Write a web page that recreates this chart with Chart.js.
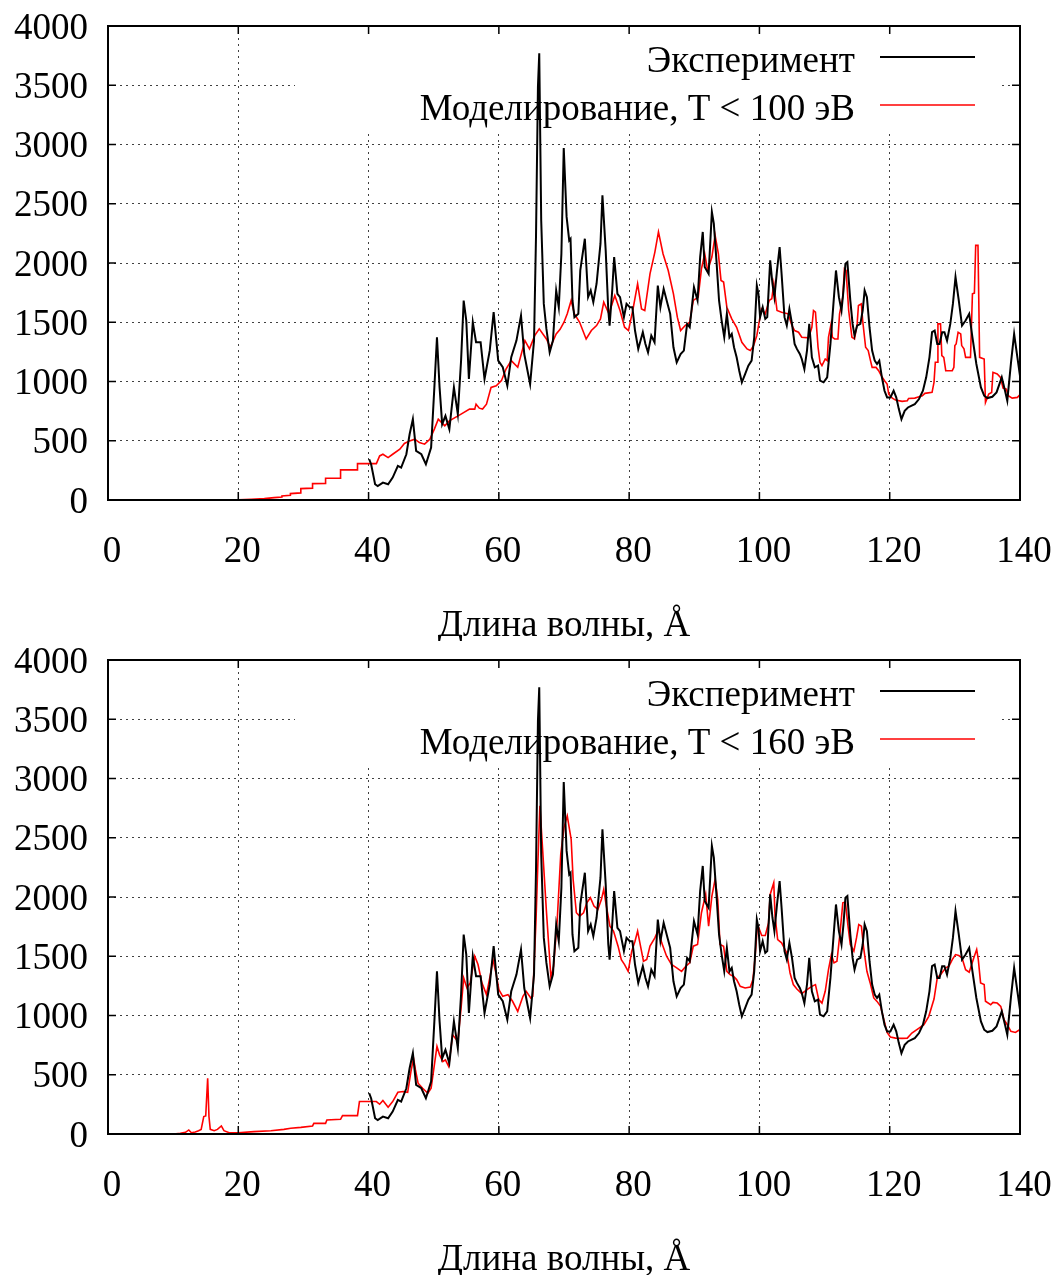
<!DOCTYPE html>
<html lang="ru">
<head>
<meta charset="utf-8">
<title>Эксперимент и моделирование</title>
<script src="https://cdn.jsdelivr.net/npm/chart.js@4.4.1/dist/chart.umd.min.js"></script>
<style>
  html, body { margin: 0; padding: 0; background: #fff; }
  body { width: 1056px; height: 1275px; position: relative; overflow: hidden; }
  canvas { position: absolute; left: 0; }
  #panelTop { top: 0; }
  #panelBottom { top: 634px; }
</style>
</head>
<body>
<canvas id="panelTop" width="1056" height="641"></canvas>
<canvas id="panelBottom" width="1056" height="641"></canvas>
<script>
// ---- data (wavelength, Å / intensity) ----
const expX = [40.1, 40.4, 41, 41.4, 42.2, 43, 43.7, 44.5, 45, 45.8, 46.3, 46.8, 47.3, 48.1, 48.8, 49.6, 50.1, 50.5, 50.9, 51.3,
  51.8, 52.4, 53.1, 53.7, 54.2, 54.6, 55, 55.4, 56, 56.5, 57.2, 57.8, 58.6, 59.2, 59.9, 60.6, 61.3, 61.9, 62.7, 63.4,
  63.9, 64.8, 65.4, 65.7, 66, 66.2, 66.5, 66.9, 67.3, 67.8, 68.3, 68.8, 69.2, 69.6, 69.96, 70.4, 70.8, 71, 71.3, 71.6,
  72.2, 72.5, 73.2, 73.7, 74.1, 74.5, 75, 75.6, 75.9, 76.4, 76.8, 77, 77.4, 77.7, 78.2, 78.6, 79.2, 79.6, 80.1, 80.5,
  80.9, 81.4, 82.1, 82.5, 82.9, 83.4, 83.9, 84.4, 84.8, 85.3, 85.9, 86.3, 86.8, 87.3, 87.9, 88.4, 88.9, 89.3, 89.95, 90.5,
  90.9, 91.3, 91.6, 92.2, 92.7, 93, 93.4, 93.8, 94.2, 94.6, 95, 95.4, 95.75, 96.1, 96.5, 96.9, 97.3, 97.8, 98.3, 98.8,
  99.2, 99.6, 99.85, 100.1, 100.5, 100.9, 101.2, 101.65, 102, 102.3, 102.7, 103.1, 103.4, 103.85, 104.2, 104.6, 105, 105.4, 105.75, 106.2,
  106.5, 106.9, 107.3, 107.65, 108.05, 108.5, 109, 109.3, 109.85, 110.4, 110.9, 111.4, 111.75, 112.2, 112.6, 112.9, 113.2, 113.5, 113.95, 114.3,
  114.6, 115, 115.5, 115.85, 116.15, 116.5, 116.9, 117.3, 117.7, 118.05, 118.4, 118.8, 119.2, 119.6, 120.1, 120.6, 121, 121.4, 121.8, 122.3,
  122.8, 123.3, 123.85, 124.5, 125.1, 125.6, 126.1, 126.5, 126.9, 127.3, 127.65, 128.05, 128.4, 128.8, 129.3, 129.7, 130.1, 130.6, 131.1, 131.65,
  132.2, 132.7, 133.3, 134, 134.5, 135, 135.75, 136.4, 137.2, 137.7, 138.05, 138.6, 139.1, 139.6, 140.1];
const expY = [344, 300, 133, 118, 147, 133, 189, 288, 274, 386, 555, 682, 414, 386, 302, 443, 950, 1373, 950, 640,
  710, 598, 950, 725, 1176, 1683, 1514, 1021, 1500, 1331, 1331, 1021, 1260, 1585, 1176, 1120, 964, 1204, 1345, 1557,
  1232, 978, 1345, 2219, 3488, 3770, 2360, 1655, 1444, 1246, 1345, 1768, 1627, 2078, 2970, 2389, 2191, 2205, 1684, 1543,
  1571, 1937, 2205, 1712, 1768, 1669, 1825, 2163, 2572, 2107, 1599, 1472, 1768, 2050, 1740, 1712, 1543, 1655, 1627, 1627,
  1430, 1275, 1416, 1317, 1246, 1387, 1331, 1810, 1627, 1782, 1655, 1571, 1289, 1162, 1232, 1261, 1486, 1458, 1796, 1684,
  2050, 2262, 1966, 1909, 2431, 2332, 2022, 1684, 1514, 1373, 1571, 1373, 1402, 1289, 1204, 1091, 993, 1063, 1134, 1176,
  1373, 1810, 1740, 1543, 1627, 1528, 1543, 2022, 1825, 1712, 1937, 2135, 1909, 1543, 1472, 1613, 1486, 1317, 1275, 1232,
  1190, 1105, 1261, 1486, 1204, 1119, 1134, 1007, 993, 1035, 1317, 1684, 1937, 1712, 1599, 1768, 1994, 2008, 1684, 1486,
  1387, 1472, 1486, 1599, 1768, 1712, 1458, 1261, 1176, 1148, 1176, 1035, 922, 866, 866, 922, 866, 767, 682, 753,
  781, 795, 809, 852, 922, 1035, 1204, 1416, 1430, 1317, 1317, 1416, 1416, 1345, 1486, 1655, 1881, 1684, 1472, 1514,
  1571, 1373, 1148, 950, 880, 860, 871, 908, 1035, 922, 838, 1148, 1402, 1204, 1007];

const sim100X = [10.4, 20, 22, 24, 25.5, 26.7, 26.7, 28, 28, 29.6, 29.6, 31.4, 31.4, 33.4, 33.4, 35.7, 35.7, 38.3, 38.3, 41.2,
  41.7, 42.2, 43, 43.7, 44.8, 45.5, 46.3, 47.1, 47.8, 48.6, 49.4, 50.1, 50.7, 51.7, 52.4, 54.2, 55.5, 56.3, 56.5, 57,
  57.5, 58.1, 58.8, 59.6, 60.4, 61.1, 61.9, 62.9, 64, 64.7, 65.5, 66.2, 67.3, 67.9, 68.8, 69.4, 70, 70.5, 71.1, 71.6,
  72.4, 73.4, 74.2, 75, 75.6, 76.1, 76.9, 77.8, 78.6, 79.3, 79.9, 80.6, 81.3, 81.9, 82.4, 83.2, 83.95, 84.5, 85.2, 86,
  86.8, 87.4, 87.9, 88.6, 89.3, 89.85, 90.6, 91.1, 91.6, 92.05, 92.7, 93.2, 93.7, 94.1, 94.5, 95, 95.75, 96.5, 97.3, 98.1,
  98.6, 99.1, 99.6, 100.3, 100.9, 101.5, 101.9, 102.2, 102.7, 103.4, 104.4, 105, 105.4, 106, 106.5, 107.55, 108.05, 108.3, 108.6, 109,
  109.3, 109.6, 110.1, 110.4, 110.6, 111, 111.2, 111.55, 112.05, 112.3, 112.8, 113.05, 113.3, 113.7, 114.2, 114.6, 115, 115.2, 115.65, 115.85,
  116.3, 116.7, 117.05, 117.3, 117.9, 118.3, 118.7, 119.2, 119.6, 119.85, 120.4, 120.9, 121.9, 122.7, 122.9, 123.85, 124.5, 125, 125.4, 126.5,
  126.8, 127, 127.3, 127.4, 127.8, 128, 128.3, 128.6, 129.6, 129.85, 130, 130.2, 130.5, 130.9, 131.05, 131.4, 131.65, 132.4, 132.7, 133,
  133.2, 133.55, 133.8, 134.5, 134.7, 135.2, 135.65, 135.85, 136.5, 137, 137.4, 137.9, 138.2, 138.8, 139.6, 140.1];
const sim100Y = [0, 2, 6, 12, 20, 25, 34, 40, 54, 60, 96, 100, 138, 140, 183, 183, 254, 254, 307, 307,
  372, 386, 358, 386, 429, 477, 499, 513, 485, 471, 513, 598, 682, 626, 668, 725, 767, 767, 809, 775,
  767, 809, 950, 964, 1007, 1105, 1176, 1120, 1345, 1275, 1387, 1444, 1359, 1289, 1402, 1440, 1500, 1571, 1684, 1571,
  1500, 1359, 1430, 1472, 1528, 1669, 1571, 1726, 1599, 1458, 1430, 1613, 1825, 1613, 1599, 1909, 2092, 2262, 2078, 1937,
  1740, 1543, 1430, 1472, 1500, 1684, 1712, 1951, 2078, 1937, 2050, 2233, 2078, 1853, 1839, 1627, 1528, 1458, 1331, 1275,
  1261, 1303, 1387, 1613, 1571, 1684, 1698, 1825, 1599, 1585, 1571, 1472, 1430, 1416, 1373, 1368, 1458, 1599, 1585, 1289,
  1162, 1134, 1190, 1176, 1373, 1486, 1373, 1359, 1359, 1571, 1712, 1951, 1937, 1599, 1373, 1359, 1486, 1641, 1655, 1514,
  1289, 1261, 1176, 1119, 1119, 1091, 1049, 1007, 979, 894, 860, 843, 832, 838, 857, 860, 871, 880, 900, 908,
  993, 1162, 1162, 1486, 1486, 1218, 1204, 1091, 1091, 1119, 1303, 1317, 1416, 1402, 1303, 1275, 1204, 1204, 1740, 1746,
  2149, 2149, 1204, 1190, 823, 894, 908, 1077, 1063, 1035, 945, 936, 880, 860, 866, 894];

const sim160X = [10.1, 11.1, 11.9, 12.4, 12.8, 13.4, 13.9, 14.3, 14.7, 15, 15.3, 15.5, 15.7, 16.3, 16.8, 17.4, 17.8, 18.6, 20, 22.4,
  25, 27, 28.05, 29.6, 31.4, 31.6, 33.4, 33.6, 35.7, 36, 38.3, 38.6, 41.2, 41.7, 42.2, 43, 43.7, 44.5, 45.3, 46,
  46.5, 46.9, 47.2, 47.6, 48.3, 49.1, 49.6, 50.1, 50.5, 50.9, 51.4, 51.8, 52.3, 52.9, 53.7, 54.2, 54.6, 55.1, 55.6, 56.3,
  56.8, 57.4, 58.1, 58.7, 59.1, 59.6, 60, 60.6, 61.4, 62.1, 62.9, 63.7, 64.2, 64.9, 65.2, 65.7, 66, 66.3, 66.7, 67.3,
  68, 68.4, 68.95, 69.5, 70, 70.5, 71.1, 71.4, 71.9, 72.4, 73, 73.5, 74.05, 74.6, 75.2, 75.75, 76.1, 76.5, 77.05, 77.6,
  78.3, 78.8, 79.3, 79.85, 80.4, 80.9, 81.3, 81.65, 82.2, 82.7, 83.2, 83.95, 84.5, 85, 85.75, 86.5, 87.3, 88.05, 88.7, 89.3,
  89.85, 90.5, 91.1, 91.75, 92.2, 92.7, 93.2, 93.6, 93.95, 94.5, 95, 95.5, 96, 96.5, 97.05, 97.8, 98.6, 99, 99.3, 99.7,
  100.35, 100.9, 101.4, 101.65, 102.2, 102.4, 102.8, 103.4, 104.2, 104.7, 105.2, 105.75, 106.5, 107.3, 108.05, 108.6, 109.1, 109.6, 110.1, 110.6,
  111.05, 111.45, 111.9, 112.4, 112.8, 113.2, 113.6, 113.95, 114.5, 114.9, 115.25, 115.65, 116, 116.5, 117, 117.55, 118.05, 118.6, 119.1, 119.6,
  120.1, 120.9, 121.9, 122.7, 123.4, 124.5, 125.25, 126, 126.8, 127.3, 127.8, 128.6, 129.1, 129.6, 130.1, 130.6, 131.1, 131.65, 132.2, 132.9,
  133.35, 133.6, 133.95, 134.5, 134.7, 135.5, 135.85, 136.5, 137.05, 137.55, 138.05, 138.6, 139.3, 140.1];
const sim160Y = [0, 6, 14, 34, 11, 17, 28, 39, 147, 152, 471, 147, 39, 28, 39, 68, 28, 11, 11, 20,
  28, 39, 48, 56, 68, 90, 90, 118, 124, 155, 155, 274, 274, 251, 282, 226, 274, 352, 358, 352,
  527, 640, 541, 429, 386, 344, 386, 584, 739, 668, 612, 626, 570, 838, 781, 1063, 1317, 1232, 1275, 1500,
  1430, 1275, 1176, 1345, 1472, 1345, 1218, 1162, 1176, 1120, 1035, 1162, 1204, 1148, 1162, 1796, 2304, 2769, 2417, 1881,
  1317, 1416, 1796, 2360, 2586, 2685, 2487, 2149, 1867, 1839, 1867, 1951, 1994, 1923, 1895, 1980, 2064, 1923, 1754, 1712,
  1585, 1472, 1430, 1373, 1543, 1627, 1712, 1613, 1458, 1472, 1585, 1655, 1726, 1613, 1500, 1430, 1402, 1373, 1416, 1444,
  1585, 1599, 1867, 2022, 1754, 2008, 2149, 1980, 1599, 1585, 1373, 1345, 1331, 1303, 1246, 1232, 1241, 1303, 1472, 1768,
  1675, 1675, 1782, 2022, 2121, 1839, 1641, 1613, 1528, 1359, 1261, 1224, 1184, 1218, 1246, 1261, 1134, 1105, 1204, 1387,
  1514, 1444, 1458, 1712, 1951, 1957, 1754, 1599, 1543, 1655, 1768, 1754, 1571, 1373, 1275, 1148, 1119, 1077, 964, 857,
  818, 809, 807, 809, 852, 894, 922, 993, 1139, 1317, 1345, 1402, 1416, 1472, 1514, 1506, 1486, 1387, 1365, 1486,
  1557, 1472, 1275, 1261, 1120, 1091, 1111, 1105, 1077, 964, 922, 866, 857, 885];

const expLabel = 'Эксперимент';
const xTitle = 'Длина волны, Å';

// ---- styling ----
const FONT_FAMILY = '"Liberation Serif", "DejaVu Serif", serif';
const FONT_SIZE = 37;

function toPoints(xs, ys) {
  return xs.map((x, i) => ({ x: x, y: ys[i] }));
}

// gnuplot look: white key box over the grid, solid border, inward mirror ticks
const gnuplotFrame = {
  id: 'gnuplotFrame',
  beforeDatasetsDraw(chart) {
    const { ctx, chartArea: a } = chart;
    ctx.save();
    ctx.fillStyle = '#fff';
    ctx.fillRect(a.left + 187, a.top + 1, a.width - 207, 104);
    ctx.font = FONT_SIZE + 'px ' + FONT_FAMILY;
    ctx.textAlign = 'right';
    ctx.textBaseline = 'alphabetic';
    chart.data.datasets.forEach((ds, i) => {
      const y = a.top + 31 + i * 48;
      ctx.fillStyle = '#000';
      ctx.fillText(ds.label, a.right - 165, y + 15);
      ctx.strokeStyle = ds.borderColor;
      ctx.lineWidth = ds.borderWidth;
      ctx.beginPath();
      ctx.moveTo(a.right - 140, y);
      ctx.lineTo(a.right - 45, y);
      ctx.stroke();
    });
    ctx.restore();
  },
  afterDatasetsDraw(chart) {
    const { ctx, chartArea: a, scales } = chart;
    ctx.save();
    ctx.strokeStyle = '#000';
    ctx.lineWidth = 1.5;
    ctx.beginPath();
    scales.x.ticks.forEach(t => {
      const px = scales.x.getPixelForValue(t.value);
      ctx.moveTo(px, a.bottom); ctx.lineTo(px, a.bottom - 8);
      ctx.moveTo(px, a.top); ctx.lineTo(px, a.top + 8);
    });
    scales.y.ticks.forEach(t => {
      const py = scales.y.getPixelForValue(t.value);
      ctx.moveTo(a.left, py); ctx.lineTo(a.left + 8, py);
      ctx.moveTo(a.right, py); ctx.lineTo(a.right - 8, py);
    });
    ctx.stroke();
    ctx.lineWidth = 2;
    ctx.strokeRect(a.left, a.top, a.width, a.height);
    ctx.restore();
  }
};

function makePanel(canvasId, simLabel, simX, simY) {
  const ctx = document.getElementById(canvasId).getContext('2d');
  return new Chart(ctx, {
    type: 'line',
    data: {
      datasets: [{
        label: expLabel,
        data: toPoints(expX, expY),
        borderColor: '#000000',
        borderWidth: 2,
        pointRadius: 0,
        tension: 0,
        fill: false
      }, {
        label: simLabel,
        data: toPoints(simX, simY),
        borderColor: '#ff0000',
        borderWidth: 1.6,
        pointRadius: 0,
        tension: 0,
        fill: false
      }]
    },
    options: {
      responsive: false,
      animation: false,
      devicePixelRatio: 1,
      layout: { padding: { top: 26, right: 36, left: 0, bottom: 0 } },
      plugins: {
        legend: { display: false },
        tooltip: { enabled: false }
      },
      scales: {
        x: {
          type: 'linear',
          min: 0,
          max: 140,
          afterFit: (scale) => {
            scale.height = 141;
            scale.paddingLeft = 0;
            scale.paddingRight = 0;
          },
          ticks: {
            stepSize: 20,
            autoSkip: false,
            maxRotation: 0,
            padding: 30,
            labelOffset: 4,
            color: '#000',
            font: { family: FONT_FAMILY, size: FONT_SIZE }
          },
          grid: { color: 'rgba(0,0,0,0.75)', lineWidth: 1, drawTicks: false },
          border: { display: false, dash: [2, 4] },
          title: {
            display: true,
            text: xTitle,
            color: '#000',
            padding: { top: 0, bottom: 0 },
            font: { family: FONT_FAMILY, size: FONT_SIZE, lineHeight: 0.82 }
          }
        },
        y: {
          min: 0,
          max: 4000,
          afterFit: (scale) => {
            scale.width = 108;
            scale.paddingTop = 0;
            scale.paddingBottom = 0;
          },
          ticks: {
            stepSize: 500,
            padding: 20,
            labelOffset: 3,
            color: '#000',
            callback: (v) => String(v),
            font: { family: FONT_FAMILY, size: FONT_SIZE }
          },
          grid: { color: 'rgba(0,0,0,0.75)', lineWidth: 1, drawTicks: false },
          border: { display: false, dash: [2, 4] }
        }
      }
    },
    plugins: [gnuplotFrame]
  });
}

makePanel('panelTop', 'Моделирование, T < 100 эВ', sim100X, sim100Y);
makePanel('panelBottom', 'Моделирование, T < 160 эВ', sim160X, sim160Y);
</script>
</body>
</html>
